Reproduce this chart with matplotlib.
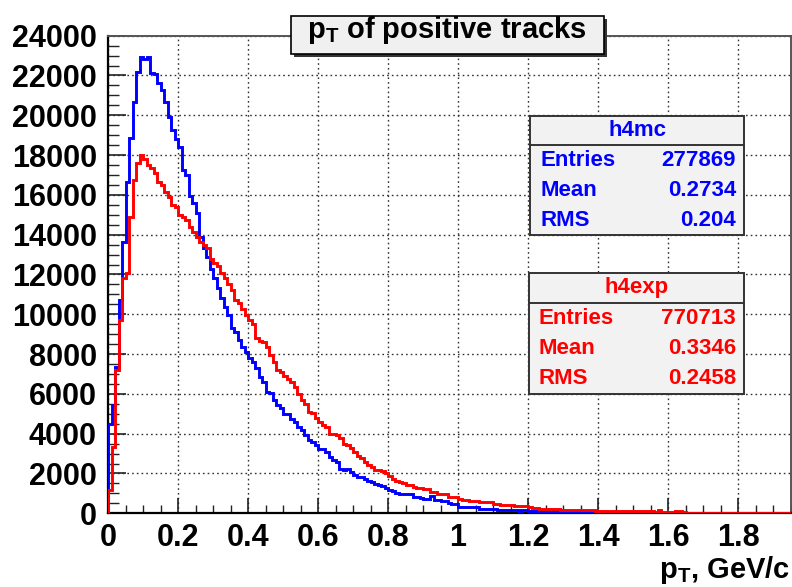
import matplotlib.pyplot as plt
import numpy as np
from matplotlib.patches import Rectangle
from matplotlib.lines import Line2D
from matplotlib.ticker import MultipleLocator, FuncFormatter

plt.rcParams['font.family'] = ['Liberation Sans', 'DejaVu Sans']
plt.rcParams['font.weight'] = 'bold'
plt.rcParams['mathtext.fontset'] = 'custom'
plt.rcParams['mathtext.rm'] = 'Liberation Sans:bold'
plt.rcParams['mathtext.bf'] = 'Liberation Sans:bold'
plt.rcParams['mathtext.it'] = 'Liberation Sans:bold'

# histogram contents, bins of 0.01 GeV/c starting at 0
bin_width = 0.01
mc_counts = [
    4500, 5430, 7360, 10710, 13650, 16670, 18850, 20690, 22170, 22950,
    22820, 22950, 22120, 22100, 21610, 21280, 20690, 19930, 19265, 18800,
    18425, 17250, 17000, 15945, 15580, 15075, 13900, 13310, 12890, 12300,
    11800, 11320, 10800, 10380, 9960, 9290, 9120, 8700, 8370, 8110,
    7780, 7610, 7280, 6860, 6600, 6100, 6050, 5680, 5430, 5270,
    5010, 5010, 4760, 4590, 4340, 4170, 3920, 3700, 3590, 3420,
    3250, 3250, 3080, 2830, 2670, 2580, 2250, 2160, 2250, 2080,
    1900, 1830, 1800, 1740, 1620, 1560, 1450, 1440, 1360, 1260,
    1180, 1100, 1000, 990, 980, 960, 950, 830, 820, 760,
    740, 730, 880, 660, 650, 640, 620, 500, 490, 480,
    330, 320, 330, 310, 320, 300, 240, 235, 230, 240,
    230, 160, 150, 155, 150, 145, 150, 140, 150, 145,
    105, 100, 100, 95, 105, 100, 90, 100, 95, 75,
    70, 70, 75, 65, 70, 70, 60, 70, 65, 60,
    40, 35, 40, 35, 35, 30, 35, 40, 30, 35,
    30, 35, 30, 30, 25, 30, 25, 30, 25, 20,
    20, 20, 15, 20, 15, 20, 15, 15, 20, 15,
    15, 10, 15, 15, 10, 15, 10, 10, 15, 10,
    10, 10, 15, 10, 10, 10, 5, 10, 10, 10,
    10, 5, 10, 5, 10,
]
exp_counts = [
    1160, 3340, 7190, 9710, 11800, 12060, 14900, 16750, 17590, 18010,
    17790, 17500, 17340, 17085, 16670, 16500, 16160, 15910, 15490, 15410,
    14990, 14900, 14740, 14400, 14150, 13900, 13650, 13480, 13310, 12760,
    12600, 12430, 12100, 11800, 11510, 11220, 10710, 10550, 10290, 9960,
    9710, 9500, 8790, 8670, 8600, 8370, 7950, 7610, 7190, 7100,
    6900, 6770, 6600, 6350, 6020, 5680, 5500, 5100, 5050, 4800,
    4590, 4450, 4340, 4010, 3960, 3920, 3760, 3500, 3420, 3300,
    3080, 2900, 2780, 2560, 2420, 2330, 2200, 2170, 2120, 2040,
    1860, 1700, 1640, 1560, 1530, 1420, 1400, 1300, 1290, 1260,
    1240, 1230, 1080, 1070, 980, 960, 950, 830, 820, 810,
    700, 690, 680, 630, 620, 610, 570, 575, 560, 570,
    460, 450, 440, 400, 405, 395, 360, 350, 345, 350,
    300, 290, 285, 240, 235, 240, 230, 235, 225, 190,
    185, 190, 180, 185, 175, 180, 185, 175, 170, 125,
    120, 125, 115, 120, 115, 120, 110, 115, 120, 110,
    115, 110, 105, 115, 110, 100, 50, 180, 55, 45,
    50, 45, 120, 125, 50, 40, 35, 40, 35, 35,
    35, 30, 35, 35, 30, 35, 30, 35, 30, 30,
    30, 35, 30, 25, 30, 30, 25, 30, 30, 25,
    30, 25, 30, 25, 30,
]

stat_names = ['Entries', 'Mean', 'RMS']
mc_stats = ['277869', '0.2734', '0.204']
exp_stats = ['770713', '0.3346', '0.2458']

W, H = 792, 587
fig = plt.figure(figsize=(W / 100, H / 100), dpi=100)


def fx(x):
    return x / W


def fy(y):
    return 1 - y / H


ax = fig.add_axes([fx(108), fy(513.3), (790.7 - 108) / W, (513.3 - 35.7) / H])

edges = np.arange(len(mc_counts) + 1) * bin_width
ax.stairs(mc_counts, edges, color='#0000ff', lw=2.1, zorder=3)
ax.stairs(exp_counts, edges, color='#ff0000', lw=2.1, zorder=4)

ax.set_xlim(0, edges[-1])
ax.set_ylim(0, 24000)
ax.xaxis.set_major_locator(MultipleLocator(0.2))
ax.xaxis.set_minor_locator(MultipleLocator(0.05))
ax.yaxis.set_major_locator(MultipleLocator(2000))
ax.yaxis.set_minor_locator(MultipleLocator(500))
ax.xaxis.set_major_formatter(FuncFormatter(lambda v, p: f'{v:g}'))
ax.yaxis.set_major_formatter(FuncFormatter(lambda v, p: f'{v:g}'))

ax.tick_params(axis='x', which='major', direction='in', length=11, width=1.2, labelsize=22, pad=7)
ax.tick_params(axis='x', which='minor', direction='in', length=6, width=1.0)
ax.tick_params(axis='y', which='major', direction='in', length=13, width=1.2, labelsize=22, pad=8)
ax.tick_params(axis='y', which='minor', direction='in', length=8, width=1.0)
ax.tick_params(top=False, right=False, which='both', colors='#222222')
ax.tick_params(labelcolor='black')

ax.grid(True, which='major', ls=(0, (1.2, 2.2)), color='#333333', lw=1.0)
for s in ['left', 'bottom']:
    ax.spines[s].set_linewidth(1.6)
    ax.spines[s].set_color('black')
for s in ['top', 'right']:
    ax.spines[s].set_linewidth(1.4)
    ax.spines[s].set_color('#555555')

# axis title
fig.text(fx(790), fy(578), r'$\mathbf{p_{T}}$, GeV/c', ha='right', va='baseline',
         fontsize=21, weight='bold')

# title box with shadow
fig.add_artist(Rectangle((fx(294), fy(57)), (607 - 294) / W, (57 - 19) / H,
                         transform=fig.transFigure, fc='#333333', ec='none'))
fig.add_artist(Rectangle((fx(291), fy(54)), (604 - 291) / W, (54 - 16) / H,
                         transform=fig.transFigure, fc='#f0f0f0', ec='black', lw=1.2))
fig.text(fx(447), fy(38), r'$\mathbf{p_{T}}$ of positive tracks', ha='center', va='baseline',
         fontsize=21, weight='bold')


def stat_box(x0, x1, y0, ydiv, y1, name, values, color, rows_y):
    fig.add_artist(Rectangle((fx(x0), fy(y1)), (x1 - x0) / W, (y1 - y0) / H,
                             transform=fig.transFigure, fc='#f2f2f2', ec='#333333', lw=1.4))
    fig.add_artist(Line2D([fx(x0), fx(x1)], [fy(ydiv), fy(ydiv)],
                          transform=fig.transFigure, color='#333333', lw=1.4))
    fig.text(fx((x0 + x1) / 2), fy((y0 + ydiv) / 2), name, ha='center', va='center',
             fontsize=16, weight='bold', color=color)
    for lab, val, yy in zip(stat_names, values, rows_y):
        fig.text(fx(x0 + 10), fy(yy), lab, ha='left', va='center',
                 fontsize=16, weight='bold', color=color)
        fig.text(fx(x1 - 8), fy(yy), val, ha='right', va='center',
                 fontsize=16, weight='bold', color=color)


stat_box(530, 744, 116, 145, 235, 'h4mc', mc_stats, '#0000ff', [161, 191, 221])
stat_box(529, 744, 273, 303, 394, 'h4exp', exp_stats, '#ff0000', [319, 349, 379])

plt.savefig('out.png', dpi=100)
